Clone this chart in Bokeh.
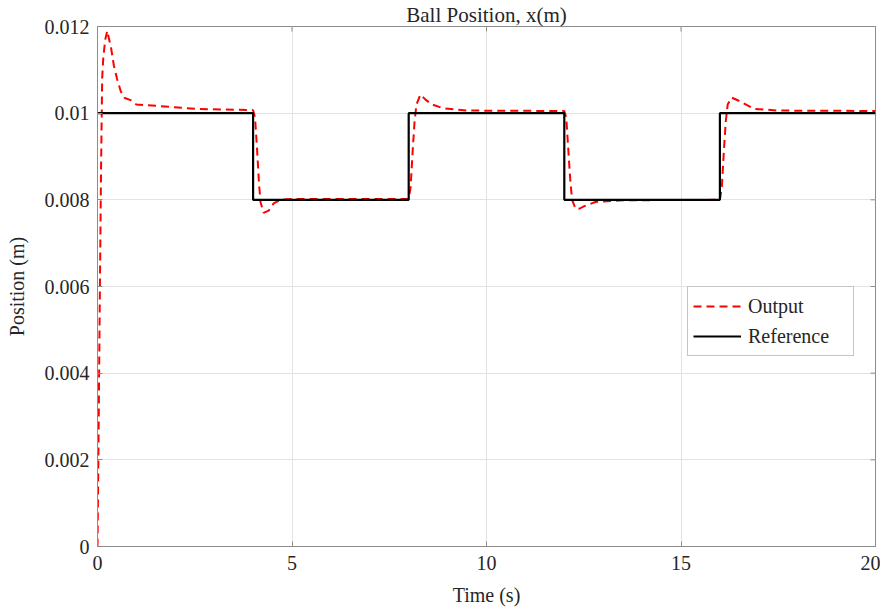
from bokeh.plotting import figure
from bokeh.models import Range1d, FixedTicker, Legend, LegendItem
from bokeh.embed import file_html
from bokeh.resources import INLINE
import math

# Reference (setpoint) signal
ref_t = [0, 4, 4, 8, 8, 12, 12, 16, 16, 20]
ref_x = [0.010, 0.010, 0.008, 0.008, 0.010, 0.010, 0.008, 0.008, 0.010, 0.010]

# Output (ball position)
out_t = [0.0, 0.03, 0.06, 0.09, 0.12, 0.15, 0.2, 0.25, 0.3, 0.35, 0.42, 0.5, 0.6, 0.7, 0.85, 1.0, 1.5, 2.5, 4.0,
         4.05, 4.1, 4.15, 4.19, 4.27, 4.4, 4.53, 4.7, 5.0, 8.0,
         8.05, 8.1, 8.15, 8.2, 8.3, 8.45, 8.6, 8.9, 9.5, 12.0,
         12.05, 12.1, 12.15, 12.2, 12.29, 12.4, 12.5, 12.8, 13.5, 16.0,
         16.05, 16.1, 16.15, 16.2, 16.3, 16.5, 16.87, 17.5, 20.0]
out_x = [0.0, 0.0028, 0.0058, 0.0086, 0.0108, 0.0113, 0.0117, 0.0119, 0.0117, 0.0115, 0.0111, 0.0108, 0.0105, 0.01035, 0.0103, 0.0102, 0.01017, 0.0101, 0.01007,
         0.0099, 0.0092, 0.0084, 0.00795, 0.0077, 0.00775, 0.00792, 0.00800, 0.00802, 0.00802,
         0.0083, 0.0091, 0.0098, 0.0102, 0.01043, 0.0103, 0.0102, 0.01011, 0.01006, 0.01005,
         0.0099, 0.0092, 0.0085, 0.0080, 0.00779, 0.0078, 0.00785, 0.00795, 0.00799, 0.00800,
         0.0083, 0.0091, 0.0098, 0.0102, 0.01036, 0.01028, 0.0101, 0.01006, 0.01005]

x_ticks = [0, 5, 10, 15, 20]
y_ticks = [0, 0.002, 0.004, 0.006, 0.008, 0.01, 0.012]
y_labels = ["0", "0.002", "0.004", "0.006", "0.008", "0.01", "0.012"]

FONT = "'Liberation Serif'"
AX = "#262626"
EDGE = "#8c8c8c"
FS = "20px"

X0, X1, Y0, Y1 = 0, 20, 0, 0.012

p = figure(width=880, height=608, output_backend="svg", toolbar_location=None,
           x_range=Range1d(X0, X1), y_range=Range1d(Y0, Y1),
           min_border_left=97, min_border_right=5, min_border_top=26, min_border_bottom=60,
           background_fill_color="white", border_fill_color="white")

p.title.text = "Ball Position, x(m)"
p.title.text_font = FONT
p.title.text_font_size = "21px"
p.title.text_font_style = "normal"
p.title.text_color = AX
p.title.align = "center"
p.title.standoff = 0
p.title.offset = 0

p.outline_line_color = EDGE
p.outline_line_width = 1

for ax in (p.xaxis[0], p.yaxis[0]):
    ax.major_tick_in = 5
    ax.major_tick_out = 0
    ax.minor_tick_in = 0
    ax.minor_tick_out = 0
    ax.axis_line_color = EDGE
    ax.major_tick_line_color = EDGE
    ax.major_label_text_font = FONT
    ax.major_label_text_font_size = FS
    ax.major_label_text_color = AX
    ax.axis_label_text_font = FONT
    ax.axis_label_text_font_size = FS
    ax.axis_label_text_font_style = "normal"
    ax.axis_label_text_color = AX

p.xaxis[0].ticker = FixedTicker(ticks=x_ticks)
p.yaxis[0].ticker = FixedTicker(ticks=y_ticks)
p.yaxis[0].major_label_overrides = {t: l for t, l in zip(y_ticks, y_labels)}
p.xaxis[0].axis_label = "Time (s)"
p.yaxis[0].axis_label = "Position (m)"
p.xaxis[0].major_label_standoff = 9
p.yaxis[0].major_label_standoff = 8
p.xaxis[0].axis_label_standoff = 11
p.yaxis[0].axis_label_standoff = 14

p.xgrid.ticker = FixedTicker(ticks=x_ticks)
p.ygrid.ticker = FixedTicker(ticks=y_ticks)
p.grid.grid_line_color = "#e3e3e3"
p.grid.grid_line_width = 1

# inward tick marks on the top and right box edges (half of each dash is clipped by the frame)
p.scatter(x_ticks, [Y1] * len(x_ticks), marker="dash", size=10, angle=math.pi / 2,
          line_color=EDGE, line_width=1)
p.scatter([X1] * len(y_ticks), y_ticks, marker="dash", size=10,
          line_color=EDGE, line_width=1)

r_out = p.line(out_t, out_x, line_color="#ff0000", line_width=2, line_dash="8 5")
r_ref = p.line(ref_t, ref_x, line_color="black", line_width=2.2)

legend = Legend(items=[LegendItem(label="Output", renderers=[r_out]),
                       LegendItem(label="Reference", renderers=[r_ref])],
                location=(590, 190))
legend.label_text_font = FONT
legend.label_text_font_size = FS
legend.label_text_color = AX
legend.border_line_color = EDGE
legend.border_line_width = 1
legend.glyph_width = 48
legend.glyph_height = 28
legend.label_width = 100
legend.label_height = 28
legend.label_standoff = 7
legend.spacing = 2
legend.padding = 5
legend.margin = 0
legend.background_fill_alpha = 1
p.add_layout(legend)

open("out.html", "w").write(file_html(p, INLINE))
